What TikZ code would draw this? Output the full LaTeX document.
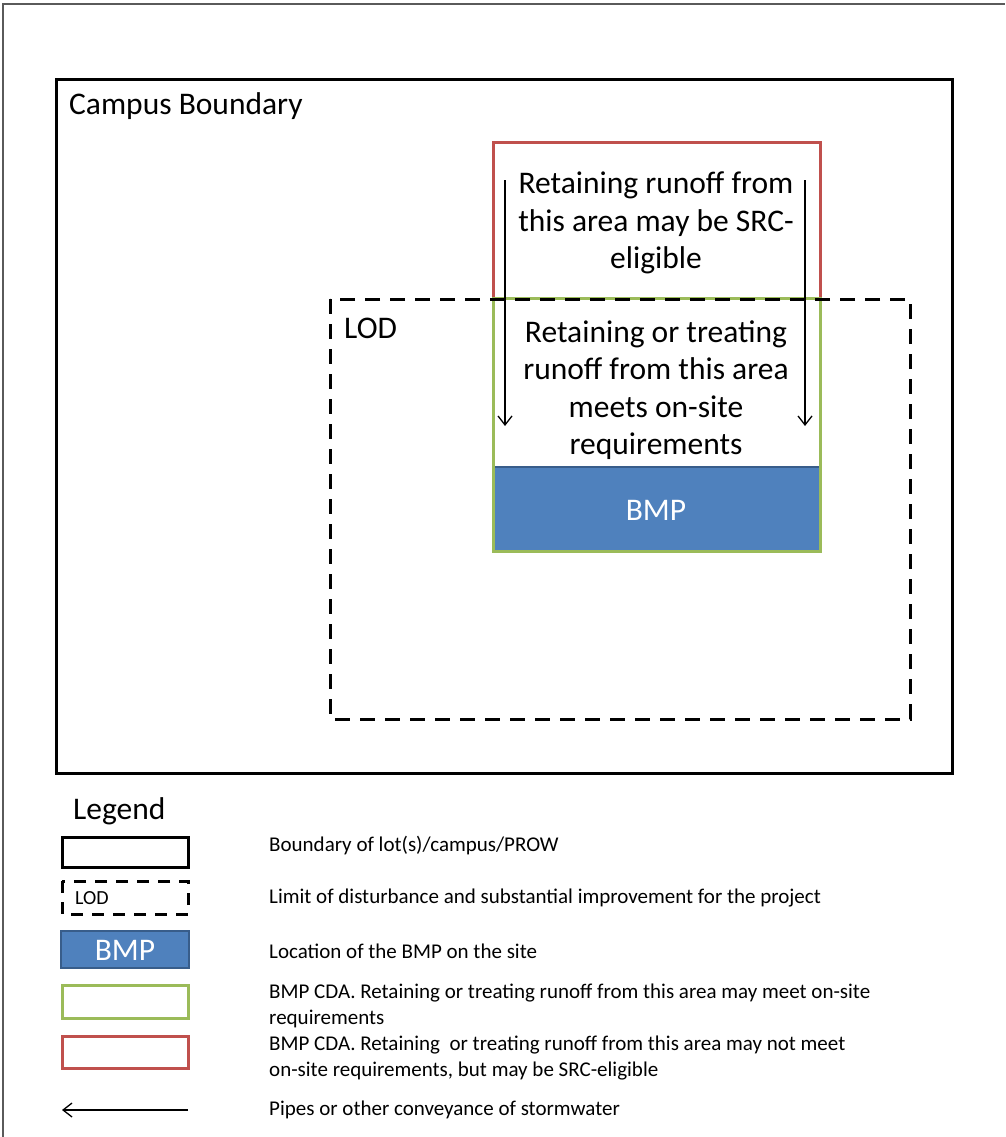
\documentclass[tikz,border=0pt]{standalone}
\usepackage{fontspec}
\setmainfont{Carlito}
\usetikzlibrary{arrows.meta}
\definecolor{bmpblue}{RGB}{79,129,189}
\definecolor{bmpedge}{RGB}{56,93,138}
\definecolor{cdagreen}{RGB}{155,187,89}
\definecolor{cdared}{RGB}{192,80,77}
\definecolor{framegray}{RGB}{90,90,90}
\tikzset{
  boundary/.style={draw=black, line width=3pt},
  lodline/.style={draw=black, line width=3pt, dash pattern=on 15pt off 10pt},
  greenbox/.style={draw=cdagreen, line width=3pt},
  redbox/.style={draw=cdared, line width=3pt},
  bmpbox/.style={fill=bmpblue, draw=bmpedge, line width=2pt},
  pipe/.style={draw=black, line width=1.3pt, -{Straight Barb[length=9pt,width=14pt,line width=1.3pt]}},
  bigtext/.style={font=\fontsize{31.5}{37.5}\selectfont, inner sep=0pt},
  legtext/.style={font=\fontsize{21}{26}\selectfont, inner sep=0pt, anchor=west, align=left},
}
\begin{document}
\begin{tikzpicture}[x=1pt,y=-1pt]
\useasboundingbox (0,0) rectangle (1005,1137);
% outer frame lines
\draw[framegray, line width=1.5pt] (3,1137) -- (3,4) -- (1005,4);
% campus boundary
\draw[boundary] (56,80) rectangle (952,773);
\node[bigtext, anchor=west] (campus) at (69,106) {Campus Boundary};
% red and green areas
\draw[redbox] (493,298) -- (493,142) -- (820,142) -- (820,298);
\fill[bmpblue] (494.5,467) rectangle (818.5,549.5);
\draw[bmpedge, line width=2pt] (494.5,467) -- (818.5,467);
\draw[greenbox] (493,298) rectangle (820,551);
% LOD
\draw[lodline] (330,299) rectangle (910,719);
\node[bigtext, anchor=west] (lod) at (344,328) {LOD};
% texts
\node[bigtext, align=center] (redtxt) at (656,223) {Retaining runoff from\\this area may be SRC-\\eligible};
\node[bigtext, align=center] (greentxt) at (656,390) {Retaining or treating\\runoff from this area\\meets on-site\\requirements};
\node[bigtext, text=white] (bmptxt) at (656,510) {BMP};
% pipes
\coordinate (p1s) at (505,180); \coordinate (p1e) at (505,426);
\coordinate (p2s) at (805,180); \coordinate (p2e) at (805,426);
\draw[pipe] (p1s) -- (p1e);
\draw[pipe] (p2s) -- (p2e);
% legend
\node[bigtext, anchor=west] (legend) at (73,811) {Legend};
\draw[boundary] (62,837) rectangle (188,867);
\draw[lodline, dash pattern=on 12pt off 9pt] (62,881) rectangle (188,914);
\node[font=\fontsize{20}{22}\selectfont, inner sep=0pt, anchor=west] (lodl) at (75,898) {LOD};
\draw[bmpbox] (61,931) rectangle (189,968);
\node[bigtext, text=white] (bmpl) at (125,950) {BMP};
\draw[greenbox] (62,985) rectangle (188,1018);
\draw[redbox] (62,1036) rectangle (188,1068);
\coordinate (ls) at (188,1110); \coordinate (le) at (62,1110);
\draw[pipe] (ls) -- (le);
\node[legtext] (t1) at (269,846) {Boundary of lot(s)/campus/PROW};
\node[legtext] (t2) at (269,898) {Limit of disturbance and substantial improvement for the project};
\node[legtext] (t3) at (269,951) {Location of the BMP on the site};
\node[legtext] (t4) at (269,1006) {BMP CDA. Retaining or treating runoff from this area may meet on-site\\requirements};
\node[legtext] (t5) at (269,1058) {BMP CDA. Retaining\ \ or treating runoff from this area may not meet\\on-site requirements, but may be SRC-eligible};
\node[legtext] (t6) at (269,1110) {Pipes or other conveyance of stormwater};
\end{tikzpicture}
\end{document}
